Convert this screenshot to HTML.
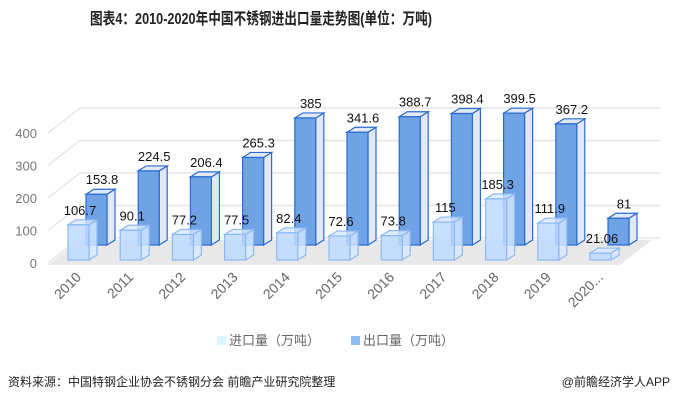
<!DOCTYPE html>
<html><head><meta charset="utf-8"><style>
body{margin:0;background:#fff;}
svg{display:block;font-family:"Liberation Sans","Noto Sans CJK SC",sans-serif;}
</style></head><body>
<svg id="chart" width="677" height="404" viewBox="0 0 677 404" xmlns="http://www.w3.org/2000/svg">
<text x="261" y="24" text-anchor="middle" font-size="16" font-weight="bold" fill="#222" textLength="342" lengthAdjust="spacingAndGlyphs">图表4：2010-2020年中国不锈钢进出口量走势图(单位：万吨)</text>
<g id="grid"></g>
<polygon points="48,265 620,265 652,240 80,240" fill="#e8e8e8"/>
<g id="yaxis"></g>
<g id="bars"></g>
<g id="xaxis"></g>
<g>
<rect x="217" y="336" width="9" height="9" fill="#dcf6fb"/>
<text x="229" y="345" font-size="13" fill="#666">进口量（万吨）</text>
<rect x="351" y="336" width="9" height="9" fill="#8fbcf5"/>
<text x="363" y="345" font-size="13" fill="#666">出口量（万吨）</text>
</g>
<text x="8" y="386" font-size="12" fill="#222">资料来源：中国特钢企业协会不锈钢分会 前瞻产业研究院整理</text>
<text x="670" y="386" text-anchor="end" font-size="12" fill="#222">@前瞻经济学人APP</text>
</svg>
<script>
const categories=["2010","2011","2012","2013","2014","2015","2016","2017","2018","2019","2020..."];
const importVals=[106.7,90.1,77.2,77.5,82.4,72.6,73.8,115,185.3,111.9,21.06];
const exportVals=[153.8,224.5,206.4,265.3,385,341.6,388.7,398.4,399.5,367.2,81];
const importLabels=["106.7","90.1","77.2","77.5","82.4","72.6","73.8","115","185.3","111.9","21.06"];
const exportLabels=["153.8","224.5","206.4","265.3","385","341.6","388.7","398.4","399.5","367.2","81"];
const yTicks=[0,100,200,300,400];
const NS="http://www.w3.org/2000/svg";
const k=0.33, W=21, DX=8, DY=-5;
function xs(i){return 68+i*52.2;}
function h(v){return v*k;}
function mk(tag,attrs,parent){const e=document.createElementNS(NS,tag);for(const a in attrs)e.setAttribute(a,attrs[a]);parent.appendChild(e);return e;}
const grid=document.getElementById('grid'),yax=document.getElementById('yaxis'),bars=document.getElementById('bars'),xax=document.getElementById('xaxis');
yTicks.forEach(t=>{
  const y=263-t*0.325;
  const l=mk('polyline',{points:`48,${y} 80,${y-25} 660,${y-25}`,fill:'none',stroke:'#e6e6e6','stroke-width':1.5},grid);
  
  
  const tx=mk('text',{x:37,y:y+5,'text-anchor':'end','font-size':13,fill:'#777'},yax);
  tx.textContent=t;
  
  
});
function box(x,base,v,fill,stroke,side,name){
  const g=mk('g',{},bars);
  
  
  const top=base-h(v);
  mk('polygon',{points:`${x+W},${base} ${x+W+DX},${base+DY} ${x+W+DX},${top+DY} ${x+W},${top}`,fill:side,stroke:stroke,'stroke-width':1.2},g);
  mk('polygon',{points:`${x},${top} ${x+DX},${top+DY} ${x+W+DX},${top+DY} ${x+W},${top}`,fill:side,stroke:stroke,'stroke-width':1.2},g);
  mk('rect',{x:x,y:top,width:W,height:base-top,fill:fill,stroke:stroke,'stroke-width':1.2},g);
  return top;
}
categories.forEach((c,i)=>{
  const x=xs(i);
  const te=box(x+18,245,exportVals[i],'#6fa3e6','#2a6bd0','#e3e9f2','export-bar');
  const ti=box(x,260,importVals[i],'rgba(190,218,255,0.85)','#8db8f2','rgba(215,232,255,0.8)','import-bar');
  const l1=mk('text',{x:x+DX+20+DX/2+2,y:te-10,'text-anchor':'middle','font-size':13,fill:'#111'},bars);
  l1.textContent=exportLabels[i];
  
  
  const l2=mk('text',{x:x+12,y:ti-10,'text-anchor':'middle','font-size':13,fill:'#111'},bars);
  l2.textContent=importLabels[i];
  
  
  const cx=x+14, cy=278;
  const xl=mk('text',{x:cx,y:cy,'text-anchor':'end','font-size':14,fill:'#666',transform:`rotate(-45 ${cx} ${cy})`},xax);
  xl.textContent=c;
  
  
});
</script>
</body></html>
